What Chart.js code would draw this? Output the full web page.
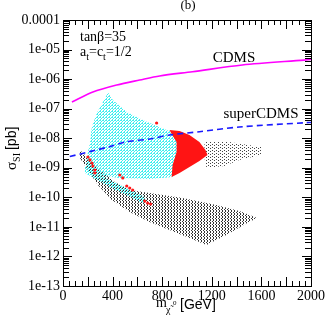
<!DOCTYPE html>
<html>
<head>
<meta charset="utf-8">
<script src="https://cdn.jsdelivr.net/npm/chart.js@4.4.0/dist/chart.umd.min.js"></script>
<style>
  html, body { margin: 0; padding: 0; background: #fff; }
  #wrap { width: 327px; height: 327px; }
</style>
</head>
<body>
<div id="wrap"><canvas id="chart" width="327" height="327"></canvas></div>
<script>
// axis ticks
const xTickValues = [0, 400, 800, 1200, 1600, 2000];
const yTickValues = [1e-13, 1e-12, 1e-11, 1e-10, 1e-9, 1e-8, 1e-7, 1e-6, 1e-5, 1e-4];
const yTickLabels = ['1e-13', '1e-12', '1e-11', '1e-10', '1e-09', '1e-08', '1e-07', '1e-06', '1e-05', '0.0001'];

// CDMS limit (solid magenta)
const cdmsMass = [72, 241, 434, 618, 779, 1044, 1446, 1944, 2000];
const cdmsSigma = [1.68e-7, 3.66e-7, 6.3e-7, 9.3e-7, 1.28e-6, 1.78e-6, 3.0e-6, 4.4e-6, 4.6e-6];

// superCDMS reach (dashed blue)
const scdmsMass = [55, 378, 514, 699, 859, 1100, 1422, 1960, 2000];
const scdmsSigma = [2.4e-9, 5.2e-9, 7.6e-9, 9.4e-9, 1.29e-8, 1.66e-8, 2.4e-8, 3.36e-8, 3.4e-8];

// outline of the cyan scan points
const cyanMass = [361, 402, 514, 643, 699, 835, 876, 924, 924, 892, 884, 699, 458, 257, 193, 185, 201, 217, 233, 273, 353];
const cyanSigma = [3.66e-7, 1.97e-7, 7.7e-8, 4.1e-8, 3.3e-8, 1.9e-8, 1.63e-8, 8.7e-9, 2.7e-9, 1.24e-9, 4.9e-10, 4.2e-10, 4.5e-10, 5.7e-10, 6.7e-10, 1.24e-9, 3.43e-9, 6.9e-9, 2.4e-8, 7.1e-8, 2.9e-7];

// thin cyan streak below the main cyan cloud
const streakMass = [177, 378, 659, 659, 378, 177];
const streakSigma = [1.15e-9, 3.87e-10, 1.03e-10, 5.96e-11, 2.24e-10, 6.67e-10];

// red blob
const redMass = [859, 940, 1020, 1100, 1149, 1165, 1100, 1020, 940, 876, 884, 916, 916, 876];
const redSigma = [1.9e-8, 1.76e-8, 1.29e-8, 7.46e-9, 4.0e-9, 2.71e-9, 1.7e-9, 1.06e-9, 6.67e-10, 4.89e-10, 1.24e-9, 3.43e-9, 7.46e-9, 1.39e-8];

// scattered red points
const redDotMass = [201, 217, 233, 241, 257, 257, 458, 482, 514, 538, 562, 659, 683, 707, 755];
const redDotSigma = [2.32e-9, 1.84e-9, 1.45e-9, 1.15e-9, 8.4e-10, 6.67e-10, 5.7e-10, 4.52e-10, 2.42e-10, 2.07e-10, 1.77e-10, 7.5e-11, 6.4e-11, 5.96e-11, 3.28e-8];

// black points, upper band right of the red blob
const blackUpMass = [1141, 1341, 1598, 1598, 1422, 1301, 1157, 1141];
const blackUpSigma = [7.46e-9, 7.46e-9, 5.0e-9, 2.71e-9, 1.84e-9, 1.15e-9, 9.8e-10, 2.15e-9];

// black points, lower curved band
const blackLowMass = [137, 201, 297, 418, 538, 699, 964, 1237, 1422, 1566, 1486, 1317, 1157, 1020, 859, 699, 538, 394, 281, 201, 137];
const blackLowSigma = [4.0e-9, 2.15e-9, 8.4e-10, 3.3e-10, 1.77e-10, 1.41e-10, 9.5e-11, 5.5e-11, 3.46e-11, 2.0e-11, 1.36e-11, 5.3e-12, 2.44e-12, 4.2e-12, 7.9e-12, 1.47e-11, 3.2e-11, 8.1e-11, 2.62e-10, 8.4e-10, 2.15e-9];

const canvas = document.getElementById('chart');
const serif = 'Liberation Serif';

function makePattern(w, h, color, cells) {
    const c = document.createElement('canvas');
    c.width = w;
    c.height = h;
    const g = c.getContext('2d');
    g.fillStyle = color;
    cells.forEach(([x, y]) => g.fillRect(x, y, 1, 1));
    return canvas.getContext('2d').createPattern(c, 'repeat');
}

const cyanFill = makePattern(3, 3, '#40f0f0', [[0, 0], [1, 0], [2, 1], [1, 2]]);
const blackFill = makePattern(3, 3, '#333', [[0, 0], [0, 1], [2, 2]]);
const blackSparse = makePattern(4, 3, '#444', [[0, 0], [2, 1]]);

const pts = (xs, ys) => xs.map((x, i) => ({ x, y: ys[i] }));

function region(label, xs, ys, bg) {
    return {
        label,
        data: pts(xs, ys),
        showLine: true,
        fill: 'shape',
        backgroundColor: bg,
        borderColor: 'transparent',
        borderWidth: 1,
        pointRadius: 0,
        tension: 0,
    };
}

function drawTicks(chart) {
    const ctx = chart.ctx;
    const sx = chart.scales.x, sy = chart.scales.y;
    const L = Math.round(sx.getPixelForValue(0));
    const R = Math.round(sx.getPixelForValue(2000));
    const T = Math.round(sy.getPixelForValue(1e-4));
    const B = Math.round(sy.getPixelForValue(1e-13));
    ctx.save();
    ctx.globalAlpha = 1;
    ctx.globalCompositeOperation = 'source-over';
    ctx.fillStyle = '#000';
    ctx.fillRect(L, T, R - L + 1, 1);
    ctx.fillRect(L, B, R - L + 1, 1);
    ctx.fillRect(L, T, 1, B - T + 1);
    ctx.fillRect(R, T, 1, B - T + 1);
    for (let m = 0; m <= 2000; m += 50) {
        const px = Math.round(sx.getPixelForValue(m));
        const len = m % 200 === 0 ? 9 : 5;
        ctx.fillRect(px, B - len, 1, len);
        ctx.fillRect(px, T, 1, len);
    }
    for (let d = -13; d < -4; d++) {
        for (let k = 1; k <= 9; k++) {
            const py = Math.round(sy.getPixelForValue(k * Math.pow(10, d)));
            const len = k === 1 ? 9 : 6;
            ctx.fillRect(L, py, len, 1);
            ctx.fillRect(R - len, py, len, 1);
        }
    }
    ctx.restore();
}

const ticksPlugin = {
    id: 'ticksIn',
    afterDatasetsDraw(chart) { drawTicks(chart); },
};

const labelsPlugin = {
    id: 'labelsText',
    afterDraw(chart) {
        drawTicks(chart);
        const ctx = chart.ctx;
        ctx.save();
        ctx.fillStyle = '#000';
        ctx.textBaseline = 'alphabetic';

        ctx.font = `13px "${serif}"`;
        ctx.textAlign = 'center';
        ctx.fillText('(b)', 188, 9);

        ctx.font = `15px "${serif}"`;
        ctx.fillText('CDMS', 234, 62);
        ctx.fillText('superCDMS', 261, 118);

        ctx.textAlign = 'left';
        ctx.font = `14px "${serif}"`;
        ctx.fillText('tanβ=35', 80, 41);
        let cx = 80;
        const parts = [['a', 0], ['t', 1], ['=c', 0], ['t', 1], ['=1/2', 0]];
        parts.forEach(([t, sub]) => {
            ctx.font = sub ? `10px "${serif}"` : `14px "${serif}"`;
            ctx.fillText(t, cx, sub ? 60 : 56);
            cx += ctx.measureText(t).width;
        });

        ctx.font = `14px "${serif}"`;
        ctx.fillText('m', 156, 307);
        ctx.font = `10px "${serif}"`;
        ctx.fillText('χ̃', 166, 313);
        ctx.font = `7px "${serif}"`;
        ctx.fillText('0', 173, 305);
        ctx.font = '14px "Liberation Sans"';
        ctx.fillText('[GeV]', 180, 309);

        ctx.translate(16, 150);
        ctx.rotate(-Math.PI / 2);
        let ty = -20;
        ctx.font = `15px "${serif}"`;
        ctx.fillText('σ', ty, 0);
        ty += ctx.measureText('σ').width;
        ctx.font = `10px "${serif}"`;
        ctx.fillText('SI', ty, 4);
        ty += ctx.measureText('SI').width + 3;
        ctx.font = '14px "Liberation Sans"';
        ctx.fillText('[pb]', ty, 0);
        ctx.restore();
    }
};

const edge = { display: true, color: '#000', width: 1 };

new Chart(canvas, {
    type: 'scatter',
    data: {
        datasets: [
            {
                label: 'CDMS',
                data: pts(cdmsMass, cdmsSigma),
                showLine: true,
                borderColor: '#ff00ff',
                borderWidth: 1.6,
                pointRadius: 0,
                tension: 0.3,
            },
            {
                label: 'superCDMS',
                data: pts(scdmsMass, scdmsSigma),
                showLine: true,
                borderColor: '#1a1aff',
                borderWidth: 1.6,
                borderDash: [6, 4],
                pointRadius: 0,
                tension: 0.3,
            },
            {
                label: 'red points',
                data: pts(redDotMass, redDotSigma),
                backgroundColor: '#ff1a1a',
                borderWidth: 0,
                pointRadius: 1.6,
            },
            region('red', redMass, redSigma, '#ff1414'),
            region('cyan streak', streakMass, streakSigma, cyanFill),
            region('cyan', cyanMass, cyanSigma, cyanFill),
            region('black upper', blackUpMass, blackUpSigma, blackSparse),
            region('black lower', blackLowMass, blackLowSigma, blackFill),
        ]
    },
    options: {
        responsive: false,
        animation: false,
        layout: { padding: { top: 20, right: 15, left: 0, bottom: 0 } },
        plugins: {
            legend: { display: false },
            tooltip: { enabled: false },
        },
        scales: {
            x: {
                type: 'linear',
                min: 0,
                max: 2000,
                grid: { display: false, drawTicks: false },
                border: edge,
                afterBuildTicks: (s) => { s.ticks = xTickValues.map(v => ({ value: v })); },
                ticks: {
                    callback: (v) => String(v),
                    color: '#000',
                    font: { family: serif, size: 14 },
                    padding: 2,
                    maxRotation: 0,
                    autoSkip: false,
                },
                afterFit: (s) => { s.height = 41; },
            },
            x2: {
                type: 'linear',
                position: 'top',
                min: 0,
                max: 2000,
                grid: { display: false, drawTicks: false },
                border: edge,
                ticks: { display: false },
                afterFit: (s) => { s.height = 0; },
            },
            y: {
                type: 'logarithmic',
                min: 1e-13,
                max: 1e-4,
                grid: { display: false, drawTicks: false },
                border: edge,
                afterBuildTicks: (s) => { s.ticks = yTickValues.map(v => ({ value: v })); },
                ticks: {
                    callback: (v, i) => yTickLabels[i],
                    color: '#000',
                    font: { family: serif, size: 14 },
                    padding: 3,
                    autoSkip: false,
                },
                afterFit: (s) => { s.width = 63; },
            },
            y2: {
                type: 'logarithmic',
                position: 'right',
                min: 1e-13,
                max: 1e-4,
                grid: { display: false, drawTicks: false },
                border: edge,
                ticks: { display: false },
                afterFit: (s) => { s.width = 0; },
            }
        }
    },
    plugins: [ticksPlugin, labelsPlugin]
});
</script>
</body>
</html>
